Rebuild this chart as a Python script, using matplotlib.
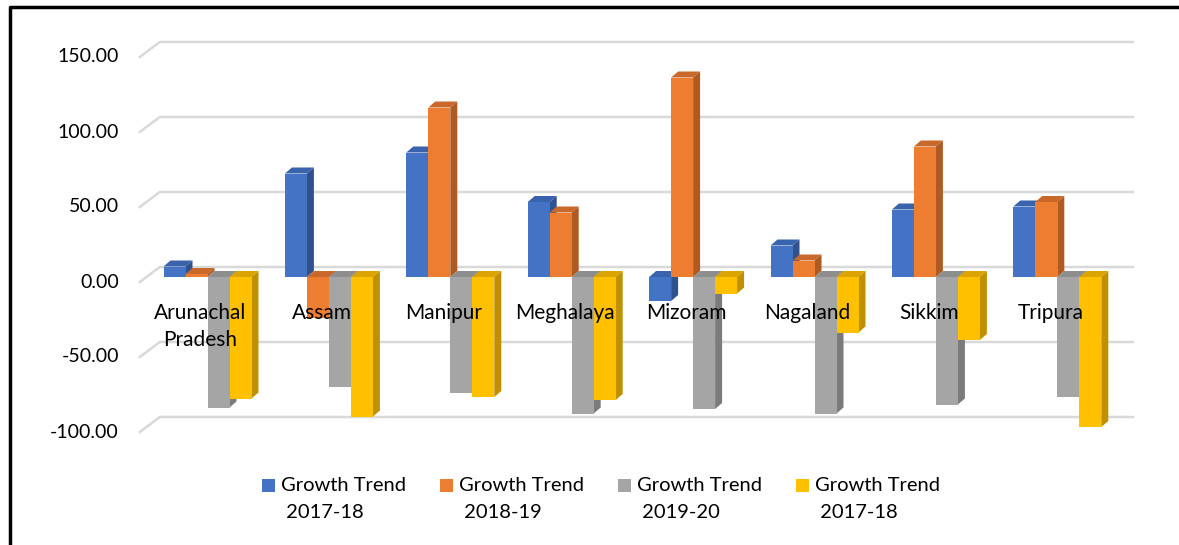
import matplotlib.pyplot as plt
from matplotlib.patches import Polygon, Rectangle
from matplotlib.lines import Line2D
import numpy as np

plt.rcParams["font.family"] = ["Lato", "DejaVu Sans"]

states = ["Arunachal\nPradesh", "Assam", "Manipur", "Meghalaya",
          "Mizoram", "Nagaland", "Sikkim", "Tripura"]
trend_1718 = [7, 69, 83, 50, -16, 21, 45, 47]
trend_1819 = [2, -27, 113, 43, 133, 11, 87, 50]
trend_1920 = [-87, -73, -77, -91, -88, -91, -85, -80]
trend_1718b = [-81, -93, -80, -82, -11, -37, -42, -100]
series_labels = ["Growth Trend\n 2017-18", "Growth Trend\n 2018-19",
                 "Growth Trend\n 2019-20", "Growth Trend\n 2017-18"]
yticks = [-100, -50, 0, 50, 100, 150]

FRONT = ["#4472C4", "#ED7D31", "#A5A5A5", "#FFC000"]
SIDE = ["#2F528F", "#AE5A21", "#7B7B7B", "#BF9000"]
TOP = ["#3A63AD", "#C8682A", "#8E8E8E", "#DBA400"]

W, H = 1179, 545
fig = plt.figure(figsize=(W / 100, H / 100), dpi=100)
# plot area: 121.4 px per category, 1.5 px per unit
PX_X, PX_Y = 121.4, 1.5
ax = fig.add_axes([146.8 / W, 95.5 / H, 8 * PX_X / W, 280 * PX_Y / H])
ax.set_xlim(-0.5, 7.5)
ax.set_ylim(-115, 165)
ax.axis("off")

# fake-3D offsets (pixels -> data)
bdx, bdy = 7 / PX_X, 6 / PX_Y        # column depth
wdx, wdy = 13 / PX_X, 10 / PX_Y      # back wall shift
fdx, fdy = -7 / PX_X, -5 / PX_Y      # front floor edge

# gridlines on the back wall with a slanted lead-in on the left
for v in yticks:
    ax.add_line(Line2D([-0.5 + fdx, -0.5 + wdx, 7.5 + 15 / PX_X],
                       [v + fdy, v + wdy, v + wdy],
                       color="#D9D9D9", lw=1.8, zorder=1, clip_on=False))
    ax.text(-0.5 - 28 / PX_X, v + fdy, f"{v:.2f}", ha="right", va="center",
            fontsize=14, color="black")

bw = 22 / PX_X
series = [trend_1718, trend_1819, trend_1920, trend_1718b]
z = 2
for k in range(len(states)):
    for s, vals in enumerate(series):
        v = vals[k]
        x0 = k - 2 * bw + s * bw
        x1 = x0 + bw
        top = max(v, 0)
        # top face
        ax.add_patch(Polygon([(x0, top), (x1, top), (x1 + bdx, top + bdy),
                              (x0 + bdx, top + bdy)],
                             closed=True, fc=TOP[s], ec="none", zorder=z))
        # right side face
        ax.add_patch(Polygon([(x1, 0), (x1 + bdx, bdy), (x1 + bdx, v + bdy),
                              (x1, v)],
                             closed=True, fc=SIDE[s], ec="none", zorder=z))
        # front face
        ax.bar(x0, v, width=bw, align="edge", color=FRONT[s], zorder=z + 0.5)
        z += 1

for k, name in enumerate(states):
    ax.text(k - 7 / PX_X, -17.5, name, ha="center", va="top", fontsize=15,
            color="black", linespacing=1.45, zorder=200)

# legend along the bottom
for i, lab in enumerate(series_labels):
    lx = 262 + 178 * i
    fig.add_artist(Rectangle((lx / W, 1 - 492 / H), 13 / W, 13 / H,
                             transform=fig.transFigure, fc=FRONT[i], ec="none"))
    fig.text((lx + 19) / W, 1 - 477 / H, lab, ha="left", va="top",
             fontsize=14.5, color="black", linespacing=1.75)

# outer frame
fig.add_artist(Line2D([10 / W, 10 / W, 1.0], [0, 1 - 7 / H, 1 - 7 / H],
                      transform=fig.transFigure, color="black", lw=2.5))

fig.savefig("out.png", dpi=100, facecolor="white")
